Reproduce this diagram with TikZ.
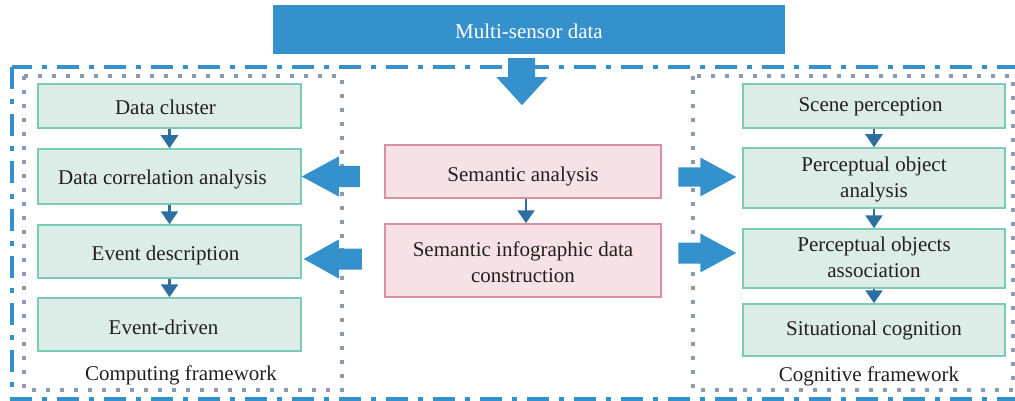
\documentclass[tikz,border=0pt]{standalone}
\usepackage{fontspec}
\setmainfont{Liberation Serif}
\usetikzlibrary{arrows.meta,calc}
\definecolor{bigblue}{HTML}{3591CC}
\definecolor{darkblue}{HTML}{2D6FA0}
\definecolor{gfill}{HTML}{DCEDE8}
\definecolor{gline}{HTML}{7CCBB5}
\definecolor{pfill}{HTML}{F5E1E6}
\definecolor{pline}{HTML}{DB8FA3}
\definecolor{dotgray}{HTML}{8C9AB0}
\definecolor{txt}{HTML}{231F20}
\begin{document}
\begin{tikzpicture}[x=1pt,y=-1pt,
  every node/.style={font=\fontsize{21}{25.5}\selectfont, text=txt},
  gbox/.style={draw=gline, fill=gfill, line width=1.5pt, inner sep=0pt, align=center},
  pbox/.style={draw=pline, fill=pfill, line width=1.5pt, inner sep=0pt, align=center},
  tsh/.style={text height=#1, text depth=0pt},
  smallarr/.style={draw=darkblue, line width=2.5pt, -{Triangle[width=17pt,length=13pt]}},
  bigarr/.style={fill=bigblue, draw=none},
  dotframe/.style={draw=dotgray, line width=4pt, dash pattern=on 4pt off 10pt},
  dashdot/.style={draw=bigblue, line width=4pt, dash pattern=on 22pt off 10pt on 5pt off 10pt}
]
\useasboundingbox (0,0) rectangle (1015,401);
\clip (0,0) rectangle (1015,401);

% frames
\draw[dashdot] (12,67.5) rectangle (1030,399);
\draw[dotframe] (24,76) rectangle (342,390);
\draw[dotframe] (693,76) rectangle (1013,390);

% top box
\node[fill=bigblue, inner sep=0pt, minimum width=512pt, minimum height=49pt, text=white, tsh=19pt] (top) at (529,29.5) {Multi-sensor data};

% left column
\node[gbox, tsh=18pt, minimum width=263pt, minimum height=44pt] (dc) at (169.5,106) {\hspace*{-8pt}Data cluster};
\node[gbox, tsh=15pt, minimum width=263pt, minimum height=55pt] (dca) at (169.5,176.5) {\hspace*{-14pt}Data correlation analysis};
\node[gbox, tsh=17pt, minimum width=263pt, minimum height=53pt] (ed) at (169.5,251.5) {\hspace*{-8pt}Event description};
\node[gbox, tsh=20pt, minimum width=263pt, minimum height=53pt] (edr) at (169.5,324.5) {\hspace*{-12pt}Event-driven};
\node[tsh=15pt] (cf) at (181,373) {Computing framework};

% right column
\node[gbox, tsh=12pt, minimum width=262pt, minimum height=44pt] (sp) at (874,106) {\hspace*{-7pt}Scene perception};
\node[gbox, minimum width=262pt, minimum height=60pt] (poa) at (874,178) {\rule{0pt}{18pt}Perceptual object\\analysis};
\node[gbox, minimum width=262pt, minimum height=59pt] (pas) at (874,258.5) {Perceptual objects\\association\rule[-3pt]{0pt}{0pt}};
\node[gbox, tsh=10pt, minimum width=262pt, minimum height=52pt] (sc) at (874,330) {Situational cognition};
\node[tsh=17pt] (cg) at (869,373) {Cognitive framework};

% center column
\node[pbox, tsh=21pt, minimum width=276pt, minimum height=53pt] (sa) at (523,171.5) {Semantic analysis};
\node[pbox, minimum width=276pt, minimum height=73pt] (sidc) at (523,260.5) {\rule{0pt}{18pt}Semantic infographic data\\construction};

% small arrows
\draw[smallarr] (dc) -- (dca);
\draw[smallarr] (dca) -- (ed);
\draw[smallarr] (ed) -- (edr);
\draw[smallarr] (sp) -- (poa);
\draw[smallarr] (poa) -- (pas);
\draw[smallarr] (pas) -- (sc);
\draw[smallarr] ($(sa.south)+(3,0)$) -- ($(sidc.north)+(3,0)$);

% big down arrow from top box
\coordinate (dtip) at ($(top.south)+(-7,51)$);
\fill[bigarr] (dtip) -- ++(-25.5,-28) -- ++(11.5,0) -- ++(0,-19) -- ++(27,0) -- ++(0,19) -- ++(12.5,0) -- cycle;

% big left arrows
\coordinate (l1) at (dca.east);
\fill[bigarr] (l1) -- ++(37,-20) -- ++(0,9.5) -- ++(21,0) -- ++(0,21) -- ++(-21,0) -- ++(0,9.5) -- cycle;
\coordinate (l2) at ($(ed.east)+(2,7.5)$);
\fill[bigarr] (l2) -- ++(35,-19.5) -- ++(0,9) -- ++(23,0) -- ++(0,21) -- ++(-23,0) -- ++(0,9) -- cycle;

% big right arrows
\coordinate (r1) at ($(poa.west)+(-6,-1)$);
\fill[bigarr] (r1) -- ++(-36,-19.5) -- ++(0,10) -- ++(-22,0) -- ++(0,19) -- ++(22,0) -- ++(0,10) -- cycle;
\coordinate (r2) at ($(pas.west)+(-6,-5.5)$);
\fill[bigarr] (r2) -- ++(-36,-19.5) -- ++(0,9) -- ++(-22,0) -- ++(0,21) -- ++(22,0) -- ++(0,9) -- cycle;
\end{tikzpicture}
\end{document}
